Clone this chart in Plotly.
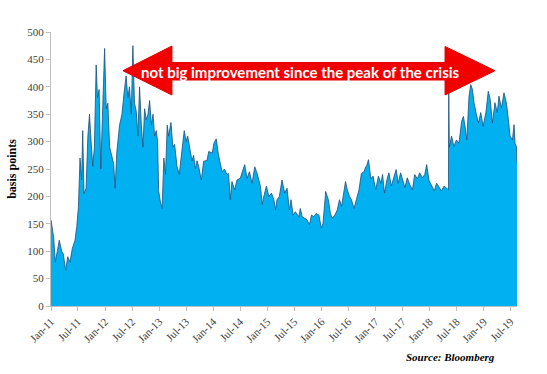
import plotly.graph_objects as go

dates = [
    "2011-01-01","2011-01-08","2011-01-19","2011-01-30","2011-02-10","2011-02-26","2011-03-14","2011-03-25",
    "2011-04-10","2011-04-24","2011-05-09","2011-05-25","2011-06-12","2011-06-24","2011-07-05","2011-07-16",
    "2011-07-27","2011-08-03","2011-08-12","2011-08-26","2011-09-07","2011-09-18","2011-09-29","2011-10-10",
    "2011-10-21","2011-11-02","2011-11-11","2011-11-22","2011-12-03","2011-12-17","2011-12-29","2012-01-09",
    "2012-01-20","2012-02-01","2012-02-17","2012-02-28","2012-03-09","2012-03-20","2012-04-08","2012-04-24",
    "2012-05-09","2012-05-22","2012-06-03","2012-06-14","2012-06-26","2012-07-07","2012-07-18","2012-07-30",
    "2012-08-10","2012-08-21","2012-09-02","2012-09-13","2012-09-24","2012-10-05","2012-10-17","2012-10-28",
    "2012-11-09","2012-11-20","2012-12-01","2012-12-12","2012-12-21","2012-12-28","2013-01-09","2013-01-20",
    "2013-02-01","2013-02-12","2013-02-24","2013-03-05","2013-03-21","2013-04-03","2013-04-15","2013-05-01",
    "2013-05-16","2013-05-30","2013-06-10","2013-06-19","2013-07-01","2013-07-12","2013-07-25","2013-08-10",
    "2013-08-21","2013-09-02","2013-09-13","2013-09-24","2013-10-12","2013-10-28","2013-11-20","2013-12-01",
    "2013-12-25","2014-01-05","2014-01-21","2014-02-03","2014-02-19","2014-03-01","2014-03-18","2014-04-03",
    "2014-04-14","2014-04-26","2014-05-07","2014-05-25","2014-06-10","2014-07-02","2014-08-01","2014-08-17",
    "2014-09-02","2014-09-20","2014-10-08","2014-10-24","2014-11-16","2014-11-27","2014-12-08","2014-12-26",
    "2015-01-11","2015-01-29","2015-02-14","2015-02-26","2015-03-07","2015-03-23","2015-04-10","2015-04-28",
    "2015-05-14","2015-05-30","2015-06-10","2015-06-24","2015-07-09","2015-08-01","2015-08-12","2015-08-24",
    "2015-09-11","2015-09-27","2015-10-12","2015-10-26","2015-11-11","2015-11-27","2015-12-15","2016-01-01",
    "2016-01-12","2016-01-30","2016-02-17","2016-03-02","2016-03-14","2016-04-01","2016-04-17","2016-05-02",
    "2016-05-16","2016-06-01","2016-06-12","2016-06-24","2016-07-09","2016-07-22","2016-08-08","2016-08-24",
    "2016-09-11","2016-09-27","2016-10-15","2016-10-26","2016-11-01","2016-11-14","2016-11-30","2016-12-15",
    "2017-01-02","2017-01-20","2017-02-06","2017-02-17","2017-03-02","2017-03-20","2017-04-01","2017-04-17",
    "2017-05-05","2017-05-20","2017-06-03","2017-06-19","2017-07-01","2017-07-18","2017-08-03","2017-08-19",
    "2017-09-07","2017-09-22","2017-10-10","2017-10-26","2017-11-13","2017-11-29","2017-12-12","2017-12-28",
    "2018-01-16","2018-02-01","2018-02-17","2018-03-05","2018-03-22","2018-04-08","2018-04-28","2018-05-08",
    "2018-05-10","2018-05-14","2018-05-29","2018-06-14","2018-07-01","2018-07-18","2018-08-05","2018-08-17",
    "2018-08-28","2018-09-09","2018-09-24","2018-10-06","2018-10-17","2018-10-28","2018-11-13","2018-11-27",
    "2018-12-12","2018-12-28","2019-01-16","2019-02-01","2019-02-14","2019-03-01","2019-03-18","2019-04-03",
    "2019-04-14","2019-05-01","2019-05-18","2019-06-03","2019-06-17","2019-06-28","2019-07-14","2019-07-25",
    "2019-08-01","2019-08-10","2019-08-14",
]

spread_bp = [
    157, 140, 125, 80, 100, 120, 100, 95,
    65, 90, 80, 105, 120, 145, 180, 270,
    230, 320, 205, 215, 310, 350, 300, 255,
    290, 440, 380, 395, 250, 380, 470, 360,
    370, 290, 270, 260, 215, 280, 330, 350,
    390, 420, 380, 400, 350, 475, 370, 355,
    310, 400, 330, 290, 360, 340, 350, 375,
    330, 350, 310, 320, 300, 210, 190, 178,
    270, 240, 330, 310, 335, 290, 295, 255,
    240, 280, 300, 320, 300, 310, 290, 265,
    275, 250, 265, 255, 230, 264, 266, 282,
    279, 297, 305, 279, 258, 245, 250, 240,
    242, 194, 227, 212, 230, 233, 258, 233,
    245, 224, 254, 242, 218, 185, 200, 219,
    200, 206, 194, 175, 194, 200, 230, 206,
    215, 175, 194, 166, 172, 163, 178, 163,
    160, 157, 148, 166, 163, 169, 166, 142,
    151, 209, 194, 169, 160, 166, 175, 194,
    182, 212, 227, 212, 200, 194, 178, 194,
    212, 242, 245, 254, 255, 267, 232, 237,
    212, 237, 224, 240, 206, 232, 243, 219,
    234, 249, 224, 243, 232, 216, 234, 222,
    212, 240, 232, 243, 234, 240, 258, 229,
    219, 210, 224, 216, 210, 219, 215, 212,
    395, 290, 310, 291, 303, 297, 337, 346,
    328, 303, 383, 404, 395, 371, 349, 334,
    353, 328, 353, 392, 377, 334, 371, 353,
    383, 361, 389, 371, 340, 310, 303, 331,
    297, 291, 262,
]

tick_dates = ["2011-01-01","2011-07-01","2012-01-01","2012-07-01","2013-01-01","2013-07-01",
              "2014-01-01","2014-07-01","2015-01-01","2015-07-01","2016-01-01","2016-07-01",
              "2017-01-01","2017-07-01","2018-01-01","2018-07-01","2019-01-01","2019-07-01"]
tick_labels = ["Jan-11","Jul-11","Jan-12","Jul-12","Jan-13","Jul-13","Jan-14","Jul-14","Jan-15",
               "Jul-15","Jan-16","Jul-16","Jan-17","Jul-17","Jan-18","Jul-18","Jan-19","Jul-19"]
y_ticks = [0, 50, 100, 150, 200, 250, 300, 350, 400, 450, 500]

SERIF = "Liberation Serif"

fig = go.Figure()
fig.add_trace(go.Scatter(
    x=dates, y=spread_bp, mode="lines", fill="tozeroy",
    fillcolor="#00B0F0", line=dict(color="#1F4E79", width=0.8),
    showlegend=False, hoverinfo="x+y",
))

# plot area in pixels: x 50.7..517, y 32..306
L, R, T, B = 50.7, 517.0, 32.0, 306.0
def px(x):
    return (x - L) / (R - L)
def py(y):
    return (B - y) / (B - T)

arrow_pts = [(122.7, 70.7), (171.7, 46.0), (171.7, 62.5), (445.0, 62.5), (445.0, 46.5),
             (495.0, 70.7), (445.0, 95.0), (445.0, 80.0), (171.7, 80.0), (171.7, 95.0)]
path = "M " + " L ".join(f"{px(a):.4f},{py(b):.4f}" for a, b in arrow_pts) + " Z"

fig.update_layout(
    width=547, height=374,
    margin=dict(l=L, r=547 - R, t=T, b=374 - B, autoexpand=False),
    paper_bgcolor="white", plot_bgcolor="white",
    font=dict(family=SERIF, size=11, color="#404040"),
    xaxis=dict(
        type="date", range=["2011-01-01", "2019-08-14"], automargin=False,
        tickvals=tick_dates, ticktext=tick_labels, tickangle=-45,
        showgrid=False, zeroline=False, showline=True, linecolor="#BFBFBF", linewidth=1,
        ticks="outside", ticklen=4, tickcolor="#BFBFBF",
        tickfont=dict(family=SERIF, size=11, color="#404040"),
    ),
    yaxis=dict(
        range=[0, 500], tickvals=y_ticks, automargin=False,
        showgrid=False, zeroline=False, showline=True, linecolor="#BFBFBF", linewidth=1,
        ticks="outside", ticklen=4, tickcolor="#BFBFBF",
        tickfont=dict(family=SERIF, size=11, color="#404040"),
        title=dict(text="<b>basis points</b>", font=dict(family=SERIF, size=12, color="#000000"),
                   standoff=8),
    ),
    shapes=[dict(type="path", xref="paper", yref="paper", path=path,
                 fillcolor="#F20000", line=dict(color="#E00000", width=1), layer="above")],
    annotations=[
        dict(text="<b>not big improvement since the peak of the crisis</b>",
             xref="paper", yref="paper", x=px(300.5), y=py(71.5), showarrow=False,
             font=dict(family="Lato", size=15, color="white"),
             xanchor="center", yanchor="middle"),
        dict(text="<b><i>Source: Bloomberg</i></b>",
             xref="paper", yref="paper", x=px(497), y=py(357), showarrow=False,
             font=dict(family=SERIF, size=11, color="#000000"),
             xanchor="right", yanchor="middle"),
    ],
)

fig.write_html("out.html", config={"displayModeBar": False},
               post_script="document.body.style.margin='0';document.body.style.overflow='hidden';")
